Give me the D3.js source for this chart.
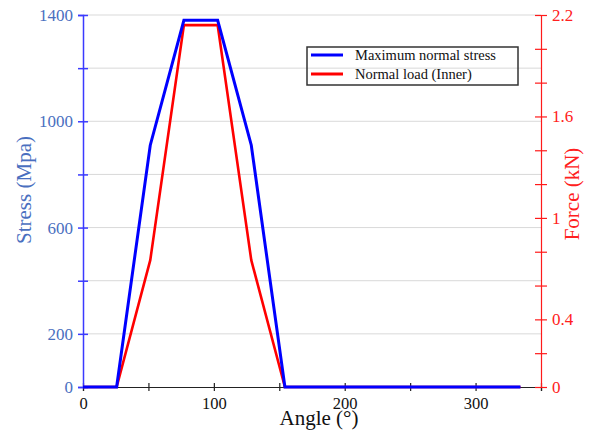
<!DOCTYPE html>
<html>
<head>
<meta charset="utf-8">
<script src="https://cdn.jsdelivr.net/npm/d3@7"></script>
<style>
  body { margin: 0; background: #fff; }
  svg { display: block; }
</style>
</head>
<body>
<div id="chart"></div>
<script>
// data
const angles = [0, 25.7, 51.4, 77.1, 102.9, 128.6, 154.3, 180, 205.7, 231.4, 257.1, 282.9, 308.6, 334.3];
const stress = [0, 0, 910, 1380, 1380, 910, 0, 0, 0, 0, 0, 0, 0, 0];
const force = [0, 0, 0.75, 2.14, 2.14, 0.75, 0, 0, 0, 0, 0, 0, 0, 0];

const xTicks = [0, 50, 100, 150, 200, 250, 300, 350];
const xLabels = [0, 100, 200, 300];
const stressTicks = [0, 200, 400, 600, 800, 1000, 1200, 1400];
const stressLabels = [0, 200, 600, 1000, 1400];
const forceTicks = [0, 0.2, 0.4, 0.6, 0.8, 1, 1.2, 1.4, 1.6, 1.8, 2, 2.2];
const forceLabels = [0, 0.4, 1, 1.6, 2.2];

const seriesNames = ["Maximum normal stress", "Normal load (Inner)"];

const width = 605, height = 435;
const margin = { top: 15, right: 64, bottom: 48, left: 83 };
const font = "'Liberation Serif', 'Times New Roman', serif";
const blueText = "#4a6fbf";

const svg = d3.select("#chart")
    .append("svg")
    .attr("width", width)
    .attr("height", height);

const x = d3.scaleLinear().domain([0, 350]).range([margin.left, width - margin.right]);
const yL = d3.scaleLinear().domain([0, 1400]).range([height - margin.bottom, margin.top]);
const yR = d3.scaleLinear().domain([0, 2.2]).range([height - margin.bottom, margin.top]);

// gridlines
svg.append("g")
    .selectAll("line")
    .data(stressTicks.filter(d => d > 0))
    .enter()
    .append("line")
    .attr("x1", x(0))
    .attr("x2", x(350))
    .attr("y1", d => yL(d))
    .attr("y2", d => yL(d))
    .style("stroke", "#d9d9d9")
    .style("stroke-width", 1);

// bottom axis
const gx = svg.append("g")
    .attr("transform", `translate(0,${yL(0)})`)
    .call(d3.axisBottom(x)
        .tickValues(xTicks)
        .tickSize(4)
        .tickFormat(d => xLabels.includes(d) ? d : ""));
gx.select(".domain").attr("stroke", "#222").attr("stroke-width", 1.2);
gx.selectAll(".tick line").attr("y1", -4).attr("y2", 4).attr("stroke", "#222").attr("stroke-width", 1.2);
gx.selectAll(".tick text")
    .attr("y", 10)
    .style("font-family", font)
    .style("font-size", "16.5px")
    .style("fill", "#111");

// left axis
const gl = svg.append("g")
    .attr("transform", `translate(${x(0)},0)`)
    .call(d3.axisLeft(yL)
        .tickValues(stressTicks)
        .tickSize(5)
        .tickFormat(d => stressLabels.includes(d) ? d : ""));
gl.select(".domain").attr("stroke", "#3a3aff").attr("stroke-width", 1.5);
gl.selectAll(".tick line").attr("x1", -5).attr("x2", 5).attr("stroke", "#3a3aff").attr("stroke-width", 1.5);
gl.selectAll(".tick text")
    .attr("x", -10)
    .style("font-family", font)
    .style("font-size", "17px")
    .style("fill", blueText);

// right axis
const gr = svg.append("g")
    .attr("transform", `translate(${x(350)},0)`)
    .call(d3.axisRight(yR)
        .tickValues(forceTicks)
        .tickSize(6)
        .tickFormat(d => forceLabels.includes(d) ? d : ""));
gr.select(".domain").attr("stroke", "#ff1a1a").attr("stroke-width", 1.2);
gr.selectAll(".tick line").attr("x1", -6).attr("x2", 6).attr("stroke", "#ff1a1a").attr("stroke-width", 1.2);
gr.selectAll(".tick text")
    .attr("x", 11)
    .style("font-family", font)
    .style("font-size", "17px")
    .style("fill", "#ff2020");

// lines
const redLine = d3.line()
    .x((d, i) => x(angles[i]))
    .y(d => yR(d));
const blueLine = d3.line()
    .x((d, i) => x(angles[i]))
    .y(d => yL(d));

svg.append("path")
    .datum(force)
    .attr("d", redLine)
    .attr("fill", "none")
    .attr("stroke", "#ff0000")
    .attr("stroke-width", 2.6);

svg.append("path")
    .datum(stress)
    .attr("d", blueLine)
    .attr("fill", "none")
    .attr("stroke", "#0000ff")
    .attr("stroke-width", 3);

// axis titles
svg.append("text")
    .attr("x", 319)
    .attr("y", 425)
    .attr("text-anchor", "middle")
    .style("font-family", font)
    .style("font-size", "21px")
    .style("fill", "#111")
    .text("Angle (°)");

svg.append("text")
    .attr("transform", "translate(31,190) rotate(-90)")
    .attr("text-anchor", "middle")
    .style("font-family", font)
    .style("font-size", "21px")
    .style("fill", blueText)
    .text("Stress (Mpa)");

svg.append("text")
    .attr("transform", "translate(579,194) rotate(-90)")
    .attr("text-anchor", "middle")
    .style("font-family", font)
    .style("font-size", "21px")
    .style("fill", "#ff2020")
    .text("Force (kN)");

// legend
const legend = svg.append("g").attr("transform", "translate(307,47)");
legend.append("rect")
    .attr("width", 211)
    .attr("height", 38)
    .attr("fill", "none")
    .attr("stroke", "#333")
    .attr("stroke-width", 1.5);

const items = legend.selectAll("g.item")
    .data(seriesNames)
    .enter()
    .append("g")
    .attr("class", "item")
    .attr("transform", (d, i) => `translate(0,${8 + i * 19})`);

items.append("line")
    .attr("x1", 4)
    .attr("x2", 36)
    .attr("y1", 0)
    .attr("y2", 0)
    .attr("stroke", (d, i) => i === 0 ? "#0000ff" : "#ff0000")
    .attr("stroke-width", 3);

items.append("text")
    .attr("x", 48)
    .attr("y", 5)
    .style("font-family", font)
    .style("font-size", "14.5px")
    .style("fill", "#111")
    .text(d => d);
</script>
</body>
</html>
